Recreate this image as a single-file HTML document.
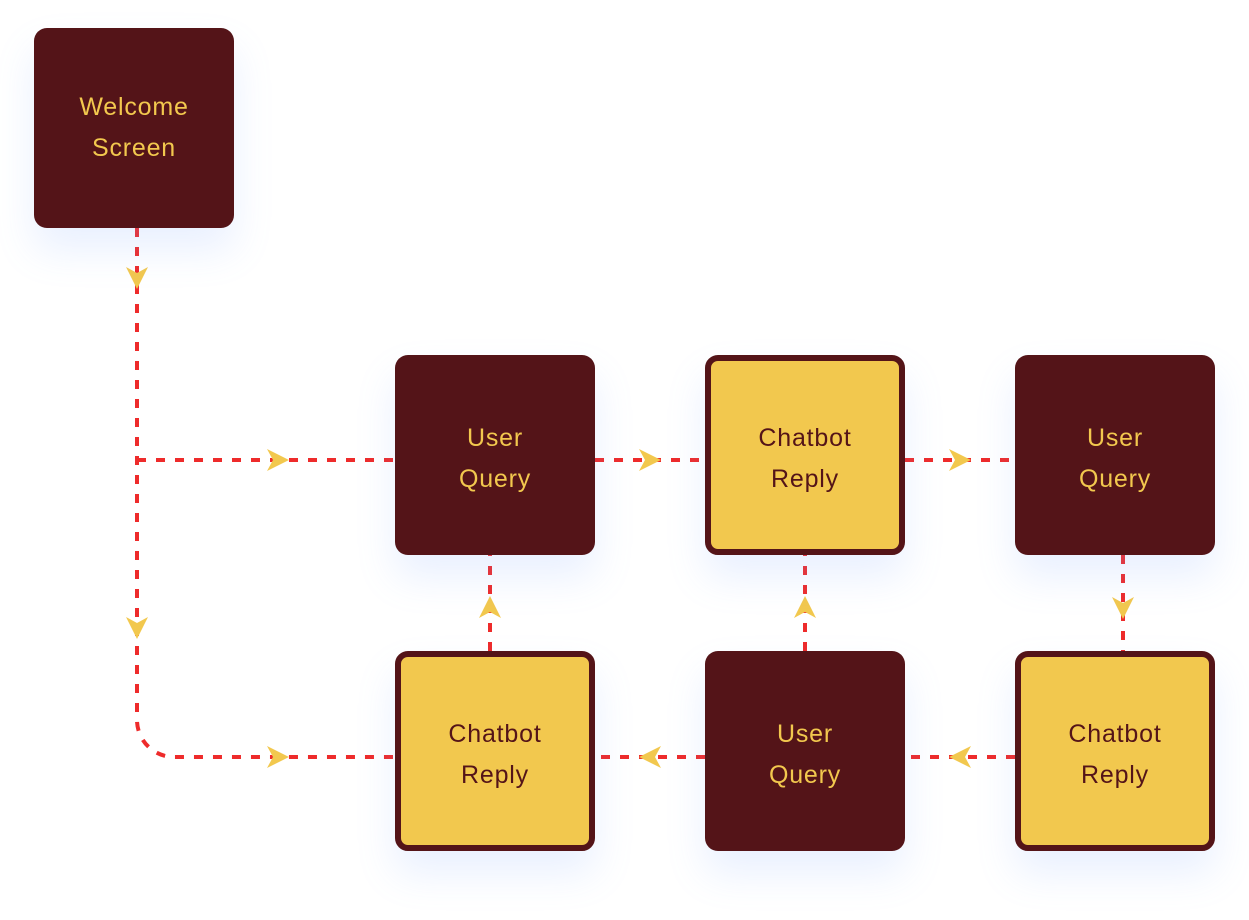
<!DOCTYPE html>
<html><head><style>
body{margin:0;width:1249px;height:920px;background:#fff;position:relative;overflow:hidden;font-family:"Liberation Sans",sans-serif}
.b{position:absolute;width:200px;height:200px;border-radius:13px;box-sizing:border-box;display:flex;align-items:center;justify-content:center;text-align:center;font-size:25px;line-height:41px;letter-spacing:0.8px;box-shadow:0 22px 40px rgba(120,160,255,0.16);padding-top:8px}
.d{background:#541418;color:#f2c84e}
.y{background:#f2c84e;color:#541418;border:6px solid #541418}
svg{position:absolute;left:0;top:0}
</style></head><body>
<svg width="1249" height="920">
<g stroke="#ee2b2b" stroke-width="4" fill="none" stroke-dasharray="9 10">
<path d="M137 228 V720 A37 37 0 0 0 174 757 H395"/>
<path d="M137 460 H395"/>
<path d="M595 460 H705"/>
<path d="M905 460 H1015"/>
<path d="M1123 555 V651"/>
<path d="M1015 757 H905"/>
<path d="M705 757 H595"/>
<path d="M805 651 V555"/>
<path d="M490 651 V555"/>
</g>
<g fill="#f2c84e">
<polygon points="0,-11 11,11 0,5 -11,11" transform="translate(137,278) rotate(180)"/>
<polygon points="0,-11 11,11 0,5 -11,11" transform="translate(137,628) rotate(180)"/>
<polygon points="0,-11 11,11 0,5 -11,11" transform="translate(278,460) rotate(90)"/>
<polygon points="0,-11 11,11 0,5 -11,11" transform="translate(278,757) rotate(90)"/>
<polygon points="0,-11 11,11 0,5 -11,11" transform="translate(650,460) rotate(90)"/>
<polygon points="0,-11 11,11 0,5 -11,11" transform="translate(960,460) rotate(90)"/>
<polygon points="0,-11 11,11 0,5 -11,11" transform="translate(1123,608) rotate(180)"/>
<polygon points="0,-11 11,11 0,5 -11,11" transform="translate(960,757) rotate(-90)"/>
<polygon points="0,-11 11,11 0,5 -11,11" transform="translate(650,757) rotate(-90)"/>
<polygon points="0,-11 11,11 0,5 -11,11" transform="translate(805,607)"/>
<polygon points="0,-11 11,11 0,5 -11,11" transform="translate(490,607)"/>
</g>
</svg>
<div class="b d" style="left:34px;top:28px;padding-top:0">Welcome<br>Screen</div>
<div class="b d" style="left:395px;top:355px">User<br>Query</div>
<div class="b y" style="left:705px;top:355px">Chatbot<br>Reply</div>
<div class="b d" style="left:1015px;top:355px">User<br>Query</div>
<div class="b y" style="left:395px;top:651px">Chatbot<br>Reply</div>
<div class="b d" style="left:705px;top:651px">User<br>Query</div>
<div class="b y" style="left:1015px;top:651px">Chatbot<br>Reply</div>
</body></html>
